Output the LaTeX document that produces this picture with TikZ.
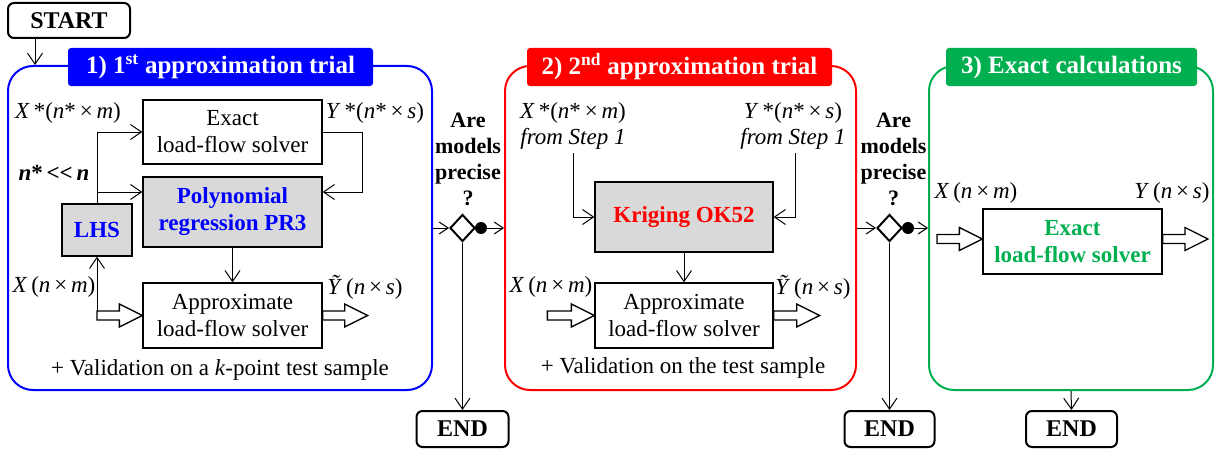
\documentclass[tikz,border=0pt]{standalone}
\usepackage{fontspec}
\setmainfont{Liberation Serif}
\usetikzlibrary{arrows.meta,calc,shapes.geometric}
\definecolor{cblue}{RGB}{0,0,255}
\definecolor{cred}{RGB}{255,0,0}
\definecolor{cgreen}{RGB}{0,176,80}
\definecolor{cgray}{RGB}{217,217,217}
\newcommand\mi[1]{\textit{#1}}
\newcommand\tms{\,×\,}
\newcommand\harrow[2]{\draw[hollow] let \p1=(#1),\p2=(#2) in
  (\x1,\y1+4.5pt) -- (\x2-23pt,\y1+4.5pt) -- (\x2-23pt,\y1+11.5pt) -- (\x2,\y1)
  -- (\x2-23pt,\y1-11.5pt) -- (\x2-23pt,\y1-4.5pt) -- (\x1,\y1-4.5pt) -- cycle;}
\tikzset{
  box/.style={draw, line width=1.3pt, inner sep=0pt, align=center,
    font=\fontsize{23}{27}\selectfont},
  graybox/.style={box, fill=cgray},
  term/.style={draw, line width=2pt, rounded corners=6pt, inner sep=0pt,
    font=\fontsize{24}{28}\selectfont\bfseries},
  container/.style={draw, line width=2pt, rounded corners=25pt, inner sep=0pt},
  title/.style={rounded corners=3pt, inner sep=0pt, text=white,
    font=\fontsize{25}{29}\selectfont\bfseries},
  lbl/.style={inner sep=0pt, align=center, font=\fontsize{23}{26}\selectfont},
  qtxt/.style={inner sep=0pt, align=center, font=\fontsize{22}{26}\selectfont\bfseries},
  arr/.style={line width=1pt, -{Straight Barb[length=11pt,width=15pt]}},
  arrs/.style={line width=1pt, -{Straight Barb[length=9pt,width=12pt]}},
  hollow/.style={draw, line width=1.3pt, fill=white},
  decision/.style={draw, diamond, line width=2pt, inner sep=0pt, fill=white,
    minimum width=25pt, minimum height=27pt},
  dot/.style={circle, fill=black, inner sep=0pt, minimum size=12pt},
}
\begin{document}
\begin{tikzpicture}[x=1pt,y=-1pt]
\useasboundingbox (0,0) rectangle (1215,452);

% ---------- containers ----------
\node[container, draw=cblue, minimum width=424pt, minimum height=324pt] (c1) at (220,228) {};
\node[container, draw=cred, minimum width=351pt, minimum height=324pt] (c2) at (680.5,228) {};
\node[container, draw=cgreen, minimum width=284pt, minimum height=324pt] (c3) at (1071,228) {};
\node[title, fill=cblue, minimum width=305pt, minimum height=38pt] (t1) at (220.5,67) {1) 1\textsuperscript{st} approximation trial};
\node[title, fill=cred, minimum width=305pt, minimum height=38pt] (t2) at (679.5,67) {2) 2\textsuperscript{nd} approximation trial};
\node[title, fill=cgreen, minimum width=251pt, minimum height=38pt] (t3) at (1071.5,67) {3) Exact calculations};

% ---------- terminals ----------
\node[term, minimum width=122pt, minimum height=35pt] (start) at (69,20.5) {START};
\node[term, minimum width=92pt, minimum height=36pt] (end1) at (462.5,429) {END};
\node[term, minimum width=90pt, minimum height=36pt] (end2) at (889.5,429) {END};
\node[term, minimum width=91pt, minimum height=36pt] (end3) at (1071.5,429) {END};
\coordinate (sa) at ($(start.south west)+(28,0)$);
\draw[arr] (sa) -- (sa |- c1.north);

% ---------- step 1 ----------
\node[box, minimum width=179pt, minimum height=64pt] (ex1) at (232.5,132) {Exact\\load-flow solver};
\node[graybox, minimum width=179pt, minimum height=70pt, text=cblue, font=\fontsize{23}{27}\selectfont\bfseries] (poly) at (232.5,212) {Polynomial\\regression PR3};
\node[graybox, minimum width=70pt, minimum height=52pt, text=cblue, font=\fontsize{23}{27}\selectfont\bfseries] (lhs) at (97,230) {LHS};
\node[box, minimum width=179pt, minimum height=65pt] (ap1) at (232.5,315.5) {Approximate\\load-flow solver};

\node[lbl] (lx1) at (68,113) {\mi{X}\,*(\mi{n}*\tms\mi{m})};
\node[lbl] (ly1) at (375,113) {\mi{Y}\,*(\mi{n}*\tms\mi{s})};
\node[lbl, font=\fontsize{23}{26}\selectfont\bfseries] (nn) at (54,173) {\mi{n}*\,<{}<\,\mi{n}};
\node[lbl] (lxa1) at (54,287) {\mi{X}\,(\mi{n}\tms\mi{m})};
\node[lbl] (lya1) at (365,287) {\mi{Ỹ}\,(\mi{n}\tms\mi{s})};
\node[lbl] (val1) at (220,370) {+ Validation on a \mi{k}-point test sample};

\coordinate (y192) at (0,192);
\coordinate (eR) at (362,132);
\draw[arr] (lhs.north) |- (ex1.west);
\draw[arr] (lhs.north |- y192) -- (poly.west |- y192);
\draw[arr] (ex1.east) -- (eR) |- (poly.east |- y192);
\draw[arr] (poly.south) -- (ap1.north);
\coordinate (xin1) at (lhs.south |- ap1.west);
\draw[arr] ($(xin1)+(0,4.5)$) -- (lhs.south);
\harrow{xin1}{ap1.west}
\coordinate (out1) at ($(ap1.east)+(45,0)$);
\harrow{ap1.east}{out1}

% ---------- decision 1 ----------
\node[qtxt] (q1) at (468,159) {Are\\models\\precise\\?};
\node[decision] (dia1) at (462.5,228) {};
\node[dot] (dot1) at (481,228) {};
\draw[arrs] (c1.east |- dia1.west) -- (dia1.west);
\draw[arrs] (dot1.east) -- (c2.west |- dot1.east);
\draw[arr] (dia1.south) -- (end1.north);

% ---------- step 2 ----------
\node[lbl] (lx2) at (573,126) {\mi{X}\,*(\mi{n}*\tms\mi{m})\\\mi{from Step 1}};
\node[lbl] (ly2) at (793,126) {\mi{Y}\,*(\mi{n}*\tms\mi{s})\\\mi{from Step 1}};
\node[graybox, minimum width=178pt, minimum height=70pt, text=cred, font=\fontsize{23}{27}\selectfont\bfseries] (krig) at (684,217) {Kriging OK52};
\node[box, minimum width=178pt, minimum height=65pt] (ap2) at (684,315.5) {Approximate\\load-flow solver};
\node[lbl] (lxa2) at (551,287) {\mi{X}\,(\mi{n}\tms\mi{m})};
\node[lbl] (lya2) at (813,287) {\mi{Ỹ}\,(\mi{n}\tms\mi{s})};
\node[lbl] (val2) at (683,368) {+ Validation on the test sample};

\coordinate (k1) at (573,153);
\coordinate (k2) at (795,153);
\draw[arr] (k1) |- (krig.west);
\draw[arr] (k2) |- (krig.east);
\draw[arr] (krig.south) -- (ap2.north);
\coordinate (xin2) at ($(ap2.west)+(-47,0)$);
\harrow{xin2}{ap2.west}
\coordinate (out2) at ($(ap2.east)+(46,0)$);
\harrow{ap2.east}{out2}

% ---------- decision 2 ----------
\node[qtxt] (q2) at (893.5,159) {Are\\models\\precise\\?};
\node[decision] (dia2) at (889.5,228) {};
\node[dot] (dot2) at (908,228) {};
\draw[arrs] (c2.east |- dia2.west) -- (dia2.west);
\draw[arrs] (dot2.east) -- (c3.west |- dot2.east);
\draw[arr] (dia2.south) -- (end2.north);

% ---------- step 3 ----------
\node[box, minimum width=179pt, minimum height=65pt, text=cgreen, font=\fontsize{23}{27}\selectfont\bfseries] (ex3) at (1072.5,241.5) {Exact\\load-flow solver};
\node[lbl] (lxa3) at (976,193) {\mi{X}\,(\mi{n}\tms\mi{m})};
\node[lbl] (lya3) at (1172,193) {\mi{Y}\,(\mi{n}\tms\mi{s})};
\coordinate (ya) at (0,239);
\coordinate (xin3) at (937,239);
\harrow{xin3}{ex3.west |- ya}
\coordinate (out3) at (1208,239);
\harrow{ex3.east |- ya}{out3}
\draw[arr] (c3.south) -- (end3.north);
\end{tikzpicture}
\end{document}
